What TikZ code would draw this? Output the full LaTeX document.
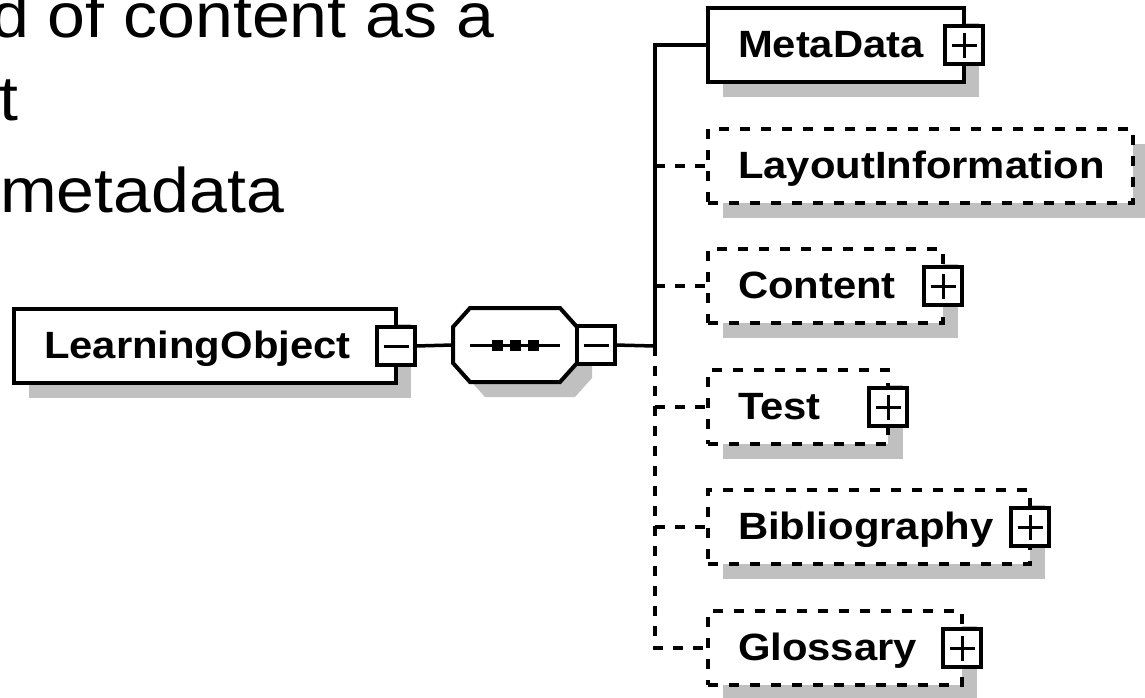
\documentclass[tikz,border=0pt]{standalone}
\usepackage{fontspec}
\newfontfamily\bodyfont{Liberation Sans}[FakeStretch=1.08]
\newfontfamily\lblfont{Liberation Sans}[FakeStretch=1.1]
\definecolor{shadowgray}{RGB}{192,192,192}
\tikzset{
  shadowed/.style={preaction={fill=shadowgray,draw=none,transform canvas={xshift=15pt,yshift=-15pt}}},
  elem/.style={draw,line width=4pt,fill=white,shadowed,anchor=west,outer sep=0pt,inner xsep=0pt,
    minimum height=74pt,minimum width=#1,text width=\the\dimexpr#1-60pt\relax,align=left,
    text height=25pt,text depth=0pt,font=\lblfont\bfseries\fontsize{38}{40}\selectfont},
  optelem/.style={elem=#1,dash pattern=on 10pt off 11pt},
  signbox/.style={draw,line width=3.5pt,fill=white,minimum size=38pt,inner sep=0pt,outer sep=0pt},
  minusbox/.style={signbox,path picture={
    \draw[line width=3pt] ([xshift=-12.5pt]path picture bounding box.center) -- ([xshift=12.5pt]path picture bounding box.center);}},
  plusbox/.style={signbox,path picture={
    \draw[line width=3pt] ([xshift=-12.5pt]path picture bounding box.center) -- ([xshift=12.5pt]path picture bounding box.center);
    \draw[line width=3pt] ([yshift=-12.5pt]path picture bounding box.center) -- ([yshift=12.5pt]path picture bounding box.center);}},
  conn/.style={line width=3.5pt},
  optconn/.style={conn,dash pattern=on 10pt off 10pt},
  txt/.style={anchor=base west,inner sep=0pt,font=\bodyfont\fontsize{63}{70}\selectfont}
}
\begin{document}
\begin{tikzpicture}[x=1pt,y=-1pt]
\fill[white,use as bounding box] (0,0) rectangle (1145,697);
\clip (0,0) rectangle (1145,697);
\node[txt] (l1) at (-9,37) {d of content as a};
\node[txt] (l2) at (-1,120) {t};
\node[txt] (l3) at (0,212) {metadata};
\node[elem=382pt] (lo) at (14,346) {LearningObject};
\node[minusbox] (lominus) at (lo.east) {};
\node[minimum width=124pt,minimum height=74pt,inner sep=0pt,outer sep=0pt] (seq) at (515,345) {};
\draw[line width=4pt,fill=white,shadowed,shift={(seq.center)}] (-62,-18) -- (-45,-37) -- (45,-37) -- (62,-18) -- (62,18) -- (45,37) -- (-45,37) -- (-62,18) -- cycle;
\draw[line width=3pt] ([xshift=-45pt]seq.center) -- ([xshift=45pt]seq.center);
\foreach \d in {-18,0,18} \fill ([xshift=\d pt]seq.center) +(-5.5,-5.5) rectangle +(5.5,5.5);
\node[minusbox,anchor=west] (seqminus) at (seq.east) {};
\node[elem=256pt] (meta) at (708,45) {MetaData};
\node[optelem=425pt] (layout) at (708,166) {LayoutInformation};
\node[optelem=235pt] (content) at (708,286) {Content};
\node[optelem=180pt] (test) at (708,407) {Test};
\node[optelem=322pt] (biblio) at (708,527) {Bibliography};
\node[optelem=254pt] (gloss) at (708,648) {Glossary};
\foreach \n in {meta,content,test,biblio,gloss} \node[plusbox] (\n plus) at (\n.east) {};
\coordinate (bus) at (655,346);
\draw[conn] (lominus.east) -- (seq.west);
\draw[conn] (seqminus.east) -- (bus);
\draw[conn] (meta.west) -| (bus);
\draw[optconn] (bus) |- (gloss.west);
\foreach \n in {layout,content,test,biblio} \draw[optconn] (\n.west -| bus) -- (\n.west);
\end{tikzpicture}
\end{document}
